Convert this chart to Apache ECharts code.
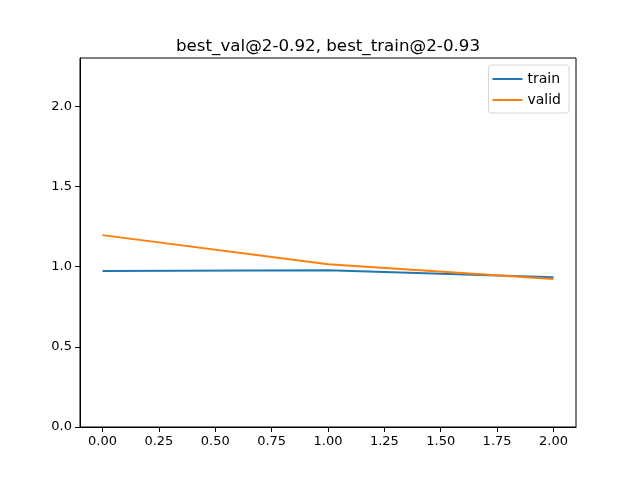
<!DOCTYPE html>
<html>
<head>
<meta charset="utf-8">
<script src="https://cdn.jsdelivr.net/npm/echarts@6/dist/echarts.min.js"></script>
<style>
  html, body { margin: 0; padding: 0; background: #fff; }
  #main { width: 640px; height: 480px; }
</style>
</head>
<body>
<div id="main"></div>
<script>
// epochs and values
var epochs = [0, 1, 2];
var trainVals = [0.972, 0.977, 0.933];
var validVals = [1.196, 1.014, 0.923];
var xTicks = [0, 0.25, 0.5, 0.75, 1.0, 1.25, 1.5, 1.75, 2.0];
var yTicks = [0, 0.5, 1.0, 1.5, 2.0];

function pairs(xs, ys) {
    return xs.map(function (x, i) { return [x, ys[i]]; });
}

var font = 'DejaVu Sans';
var chart = echarts.init(document.getElementById('main'), null, { renderer: 'canvas' });

chart.setOption({
    backgroundColor: '#fff',
    animation: false,
    textStyle: { fontFamily: font },
    title: {
        text: 'best_val@2-0.92, best_train@2-0.93',
        // centred over the plot area, not the canvas
        left: 176,
        top: 33,
        padding: [5, 0, 5, 0],
        textStyle: { fontFamily: font, fontSize: 16.7, fontWeight: 'normal', color: '#000' }
    },
    legend: {
        orient: 'vertical',
        right: 71,
        top: 65,
        itemWidth: 30,
        itemHeight: 2,
        itemGap: 7,
        padding: [7, 8, 6, 4],
        borderColor: '#d6d6d6',
        borderWidth: 1,
        borderRadius: 3,
        backgroundColor: '#fff',
        icon: 'rect',
        textStyle: { fontFamily: font, fontSize: 14, color: '#000' },
        data: ['train', 'valid']
    },
    grid: {
        left: 80, right: 64, top: 58, bottom: 53,
        show: true, borderColor: '#000', borderWidth: 1
    },
    xAxis: {
        type: 'value',
        min: -0.1,
        max: 2.1,
        splitLine: { show: false },
        axisLine: { show: true, onZero: false, lineStyle: { color: '#000', width: 1 } },
        axisTick: { show: true, length: 5, customValues: xTicks, lineStyle: { color: '#000' } },
        axisLabel: {
            customValues: xTicks,
            color: '#000', fontSize: 13, margin: 8,
            formatter: function (v) { return v.toFixed(2); }
        }
    },
    yAxis: {
        type: 'value',
        min: 0,
        max: 2.3,
        splitLine: { show: false },
        axisLine: { show: true, onZero: false, lineStyle: { color: '#000', width: 1 } },
        axisTick: { show: true, length: 5, customValues: yTicks, lineStyle: { color: '#000' } },
        axisLabel: {
            customValues: yTicks,
            color: '#000', fontSize: 13, margin: 8,
            formatter: function (v) { return v.toFixed(1); }
        }
    },
    series: [
        {
            name: 'train', type: 'line', data: pairs(epochs, trainVals),
            showSymbol: false, color: '#1f77b4',
            lineStyle: { width: 2, color: '#1f77b4' }
        },
        {
            name: 'valid', type: 'line', data: pairs(epochs, validVals),
            showSymbol: false, color: '#ff7f0e',
            lineStyle: { width: 2, color: '#ff7f0e' }
        }
    ]
});
</script>
</body>
</html>
